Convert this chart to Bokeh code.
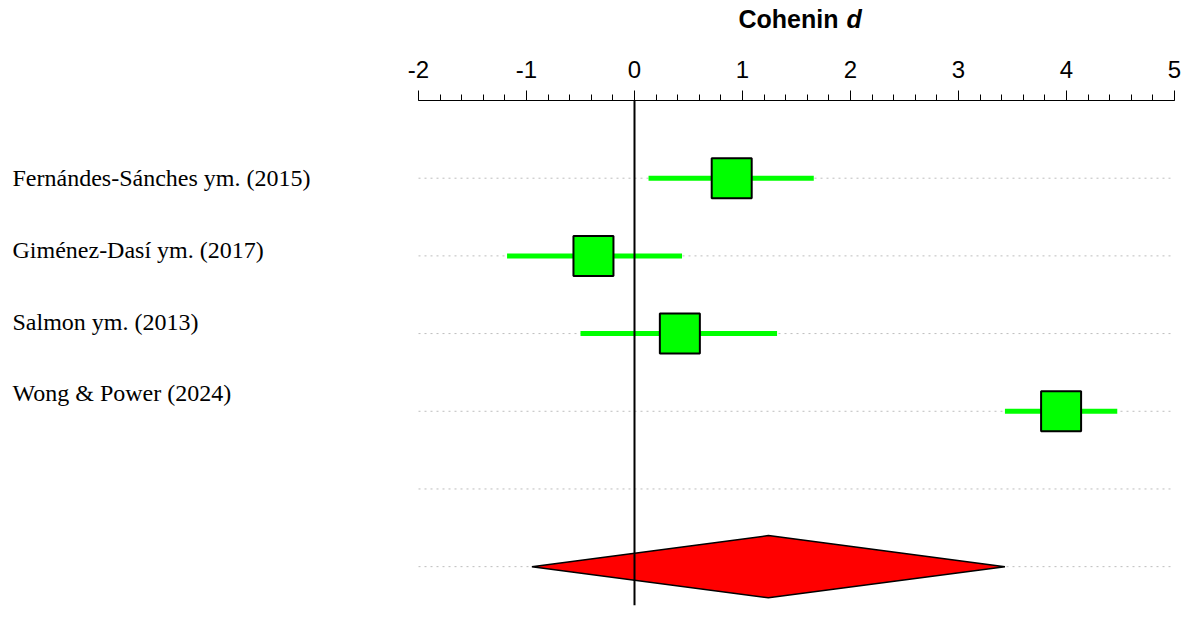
from bokeh.plotting import figure
from bokeh.layouts import column
from bokeh.models import Range1d, Span, LinearAxis, SingleIntervalTicker, ColumnDataSource
from bokeh.core.properties import value
from bokeh.embed import file_html
from bokeh.resources import INLINE

# ---- data ----
studies = ["Fernándes-Sánches ym. (2015)", "Giménez-Dasí ym. (2017)",
           "Salmon ym. (2013)", "Wong & Power (2024)"]
d_est = [0.90, -0.38, 0.42, 3.95]
ci_low = [0.13, -1.18, -0.50, 3.43]
ci_high = [1.66, 0.44, 1.32, 4.47]
pooled_est = 1.24
pooled_low = -0.95
pooled_high = 3.43
ticks = [-2, -1, 0, 1, 2, 3, 4, 5]
axis_title = "Cohenin"
axis_title_var = "d"

# ---- layout constants ----
PX_PER_UNIT = 108.0
AXIS_LEFT_PX = 418.0      # px of x=-2
FIG_W = 1183
TITLE_H = 36
TOP = 64
FRAME_H = 505
BOTTOM = 12
N_ROWS = 6.5
x_start = ticks[0] - AXIS_LEFT_PX / PX_PER_UNIT
x_end = x_start + FIG_W / PX_PER_UNIT
xr = Range1d(x_start, x_end)

rows = list(range(1, len(studies) + 1))
empty_row = len(studies) + 1
pooled_row = len(studies) + 2
all_rows = rows + [empty_row, pooled_row]

# ---- title strip ----
t = figure(width=FIG_W, height=TITLE_H, x_range=xr, y_range=Range1d(0, 1),
           output_backend="svg", toolbar_location=None,
           x_axis_location=None, y_axis_location=None,
           min_border_left=0, min_border_right=0, min_border_top=0, min_border_bottom=0)
t.outline_line_color = None
t.xgrid.visible = False
t.ygrid.visible = False
cx = (ticks[0] + ticks[-1]) / 2
t.text(x=[cx], y=[0.5], text=[axis_title], x_offset=42,
       text_font=value("Liberation Sans"), text_font_style="bold",
       text_font_size="25px", text_align="right", text_baseline="middle",
       text_color="black")
t.text(x=[cx], y=[0.5], text=[axis_title_var], x_offset=50,
       text_font=value("Liberation Sans"), text_font_style="bold italic",
       text_font_size="25px", text_align="left", text_baseline="middle",
       text_color="black")

# ---- main plot ----
p = figure(width=FIG_W, height=TOP + FRAME_H + BOTTOM,
           x_range=xr, y_range=Range1d(N_ROWS, 0),
           output_backend="svg", toolbar_location=None,
           x_axis_location=None, y_axis_location=None,
           min_border_left=0, min_border_right=0,
           min_border_top=TOP, min_border_bottom=BOTTOM)
p.outline_line_color = None
p.xgrid.visible = False
p.ygrid.visible = False

ax = LinearAxis(bounds=(ticks[0], ticks[-1]),
                ticker=SingleIntervalTicker(interval=1, num_minor_ticks=5))
ax.major_label_overrides = {tk: str(tk) for tk in ticks}
ax.major_tick_out = 10
ax.major_tick_in = 0
ax.minor_tick_out = 6
ax.minor_tick_in = 0
ax.axis_line_color = "black"
ax.major_tick_line_color = "black"
ax.minor_tick_line_color = "black"
ax.major_label_text_font = "Liberation Sans"
ax.major_label_text_font_size = "24px"
ax.major_label_text_color = "black"
ax.major_label_standoff = 13
p.add_layout(ax, "above")

# dotted row guides
p.segment(x0=[ticks[0]] * len(all_rows), x1=[ticks[-1]] * len(all_rows),
          y0=all_rows, y1=all_rows, line_color="#bdbdbd", line_width=1,
          line_dash="2 4")

# zero line
p.add_layout(Span(location=0, dimension="height", line_color="black", line_width=2))

# confidence intervals
p.segment(x0=ci_low, x1=ci_high, y0=rows, y1=rows, line_color="#00ff00", line_width=5)
# point estimates
p.scatter(x=d_est, y=rows, marker="square", size=40, fill_color="#00ff00",
          line_color="black", line_width=2)

# pooled diamond
half_h = 0.4
p.patch(x=[pooled_low, pooled_est, pooled_high, pooled_est],
        y=[pooled_row, pooled_row - half_h, pooled_row, pooled_row + half_h],
        fill_color="red", line_color="black", line_width=1.5)

# study labels
src = ColumnDataSource(dict(x=[x_start] * len(studies), y=rows, text=studies,
                            yoff=[-6.0 * i for i in range(len(studies))]))
p.text(x="x", y="y", text="text", source=src, x_offset=12, y_offset="yoff",
       text_font=value("Liberation Serif"), text_font_size="24px",
       text_color="black", text_align="left", text_baseline="middle")

layout = column(t, p, spacing=0)
open("out.html", "w").write(file_html(layout, INLINE))
